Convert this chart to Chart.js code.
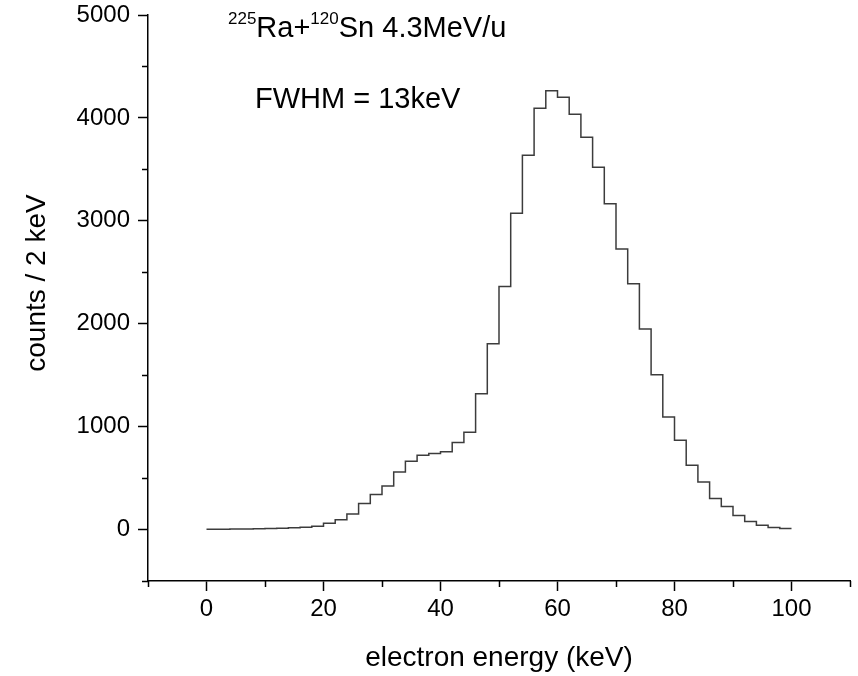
<!DOCTYPE html>
<html>
<head>
<meta charset="utf-8">
<script src="https://cdn.jsdelivr.net/npm/chart.js@4.4.0/dist/chart.umd.min.js"></script>
<style>
  body { margin: 0; background: #fff; }
</style>
</head>
<body>
<canvas id="mycanvas" width="858" height="676"></canvas>
<script>
// left edges of the 2 keV bins, and the right edge of the last one
var binStart = [0, 2, 4, 6, 8, 10, 12, 14, 16, 18,
                20, 22, 24, 26, 28, 30, 32, 34, 36, 38,
                40, 42, 44, 46, 48, 50, 52, 54, 56, 58,
                60, 62, 64, 66, 68, 70, 72, 74, 76, 78,
                80, 82, 84, 86, 88, 90, 92, 94, 96, 98];
var binEnd = 100;

// counts per bin
var counts = [3, 4, 5, 6, 8, 10, 12, 18, 22, 32,
              60, 95, 150, 252, 340, 422, 558, 663, 722, 738,
              757, 846, 945, 1320, 1806, 2362, 3074, 3638, 4094, 4265,
              4200, 4036, 3813, 3521, 3165, 2725, 2388, 1948, 1505, 1094,
              867, 624, 463, 301, 223, 136, 78, 42, 19, 10];

var xLabels = [0, 20, 40, 60, 80, 100];
var xMinor = [-10, 10, 30, 50, 70, 90, 110];
var yLabels = [0, 1000, 2000, 3000, 4000, 5000];
var yMinor = [-500, 500, 1500, 2500, 3500, 4500];

var FONT = '"Liberation Sans", Arial, sans-serif';

var points = [];
for (var i = 0; i < binStart.length; i++) {
	points.push({x: binStart[i], y: counts[i]});
}
points.push({x: binEnd, y: counts[counts.length - 1]});

// short minor ticks, y title and the text labels
var extras = {
	id: 'extras',
	afterDraw: function(chart) {
		var ctx = chart.ctx;
		var xs = chart.scales.x;
		var ys = chart.scales.y;
		ctx.save();
		ctx.strokeStyle = '#000';
		ctx.lineWidth = 1.5;
		ctx.beginPath();
		xMinor.forEach(function(v) {
			var px = Math.round(xs.getPixelForValue(v)) + 0.5;
			ctx.moveTo(px, xs.top);
			ctx.lineTo(px, xs.top + 6);
		});
		yMinor.forEach(function(v) {
			var py = Math.round(ys.getPixelForValue(v)) + 0.5;
			ctx.moveTo(ys.right - 6, py);
			ctx.lineTo(ys.right, py);
		});
		ctx.stroke();

		ctx.fillStyle = '#000';

		// y axis title
		ctx.save();
		ctx.translate(37, 283);
		ctx.rotate(-Math.PI / 2);
		ctx.font = '28px ' + FONT;
		ctx.textAlign = 'center';
		ctx.textBaseline = 'middle';
		ctx.fillText('counts / 2 keV', 0, 0);
		ctx.restore();

		ctx.textBaseline = 'alphabetic';
		var x = 228;
		var parts = [['225', true], ['Ra+', false], ['120', true], ['Sn 4.3MeV/u', false]];
		parts.forEach(function(p) {
			ctx.font = (p[1] ? '17px ' : '29px ') + FONT;
			ctx.fillText(p[0], x, p[1] ? 24 : 37);
			x += ctx.measureText(p[0]).width;
		});
		ctx.font = '29px ' + FONT;
		ctx.fillText('FWHM = 13keV', 255, 108);
		ctx.restore();
	}
};

var ctx = document.getElementById('mycanvas');

var histo = new Chart(ctx, {
	type: 'line',
	data: {
		datasets: [
			{
				data: points,
				stepped: true,
				borderColor: '#3c3c3c',
				borderWidth: 1.5,
				pointRadius: 0,
				fill: false
			}
		]
	},
	options: {
		responsive: false,
		animation: false,
		devicePixelRatio: 1,
		layout: { padding: { top: 15, right: 8, left: 0, bottom: 0 } },
		plugins: {
			legend: { display: false },
			tooltip: { enabled: false }
		},
		scales: {
			x: {
				type: 'linear',
				min: -10,
				max: 110,
				afterFit: function(s) {
					s.height = 95;
					s.paddingLeft = 0;
					s.paddingRight = 0;
				},
				border: { color: '#000', width: 1.5 },
				grid: {
					drawOnChartArea: false,
					tickLength: 10,
					tickWidth: 1.5,
					tickColor: function(c) {
						return xLabels.indexOf(c.tick.value) >= 0 ? '#000' : 'rgba(0,0,0,0)';
					}
				},
				ticks: {
					stepSize: 10,
					autoSkip: false,
					maxRotation: 0,
					padding: 4,
					color: '#000',
					font: { family: FONT, size: 24 },
					callback: function(v) { return xLabels.indexOf(v) >= 0 ? String(v) : ''; }
				},
				title: {
					display: true,
					text: 'electron energy (keV)',
					color: '#000',
					font: { family: FONT, size: 28 },
					padding: { top: 0, bottom: 1 }
				}
			},
			y: {
				min: -500,
				max: 5000,
				afterFit: function(s) {
					s.width = 148;
					s.paddingTop = 0;
					s.paddingBottom = 0;
				},
				border: { color: '#000', width: 1.5 },
				grid: {
					drawOnChartArea: false,
					tickLength: 10,
					tickWidth: 1.5,
					tickColor: function(c) {
						return yLabels.indexOf(c.tick.value) >= 0 ? '#000' : 'rgba(0,0,0,0)';
					}
				},
				ticks: {
					stepSize: 500,
					autoSkip: false,
					padding: 8,
					color: '#000',
					font: { family: FONT, size: 24 },
					callback: function(v) { return yLabels.indexOf(v) >= 0 ? String(v) : ''; }
				}
			}
		}
	},
	plugins: [extras]
});
</script>
</body>
</html>
